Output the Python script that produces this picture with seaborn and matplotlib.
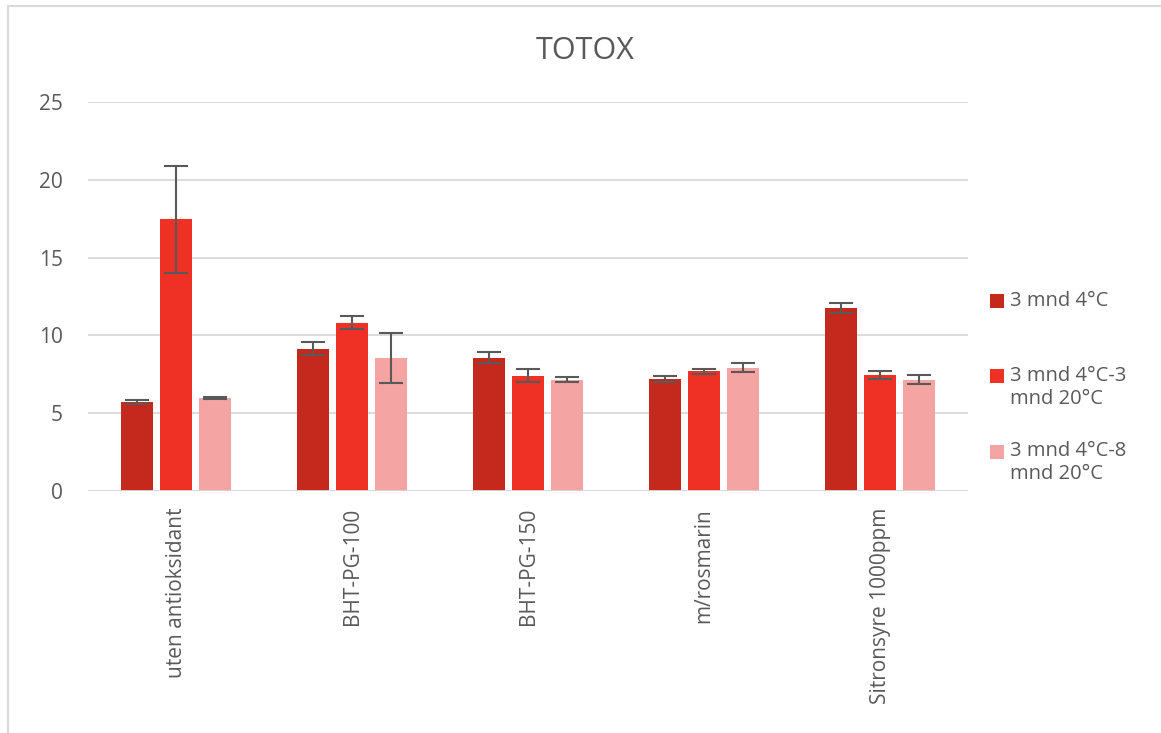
import numpy as np
import pandas as pd
import matplotlib
matplotlib.use("Agg")
import matplotlib.pyplot as plt
import matplotlib.transforms as mtransforms
import seaborn as sns
from matplotlib.patches import Rectangle

categories = ["uten antioksidant", "BHT-PG-100", "BHT-PG-150", "m/rosmarin", "Sitronsyre 1000ppm"]
series = ["3 mnd 4°C", "3 mnd 4°C-3 mnd 20°C", "3 mnd 4°C-8 mnd 20°C"]
legend_labels = ["3 mnd 4°C\n", "3 mnd 4°C-3\nmnd 20°C", "3 mnd 4°C-8\nmnd 20°C"]

vals_4c = [5.72, 9.15, 8.57, 7.20, 11.76]
vals_3m20 = [17.45, 10.82, 7.42, 7.69, 7.46]
vals_8m20 = [5.96, 8.55, 7.16, 7.93, 7.16]

err_4c = [0.15, 0.40, 0.37, 0.18, 0.35]
err_3m20 = [3.45, 0.42, 0.44, 0.14, 0.24]
err_8m20 = [0.06, 1.60, 0.17, 0.28, 0.28]

colors = ["#C5281C", "#EE3124", "#F4A5A3"]
text_col = "#595959"

df = pd.DataFrame({
    "kategori": categories * 3,
    "serie": np.repeat(series, len(categories)),
    "TOTOX": vals_4c + vals_3m20 + vals_8m20,
    "err": err_4c + err_3m20 + err_8m20,
})

sns.set_style("white")
plt.rcParams["font.family"] = ["Open Sans", "DejaVu Sans"]

fig = plt.figure(figsize=(11.61, 7.33), dpi=100)
ax = fig.add_axes([0.0758, 0.330, 0.758, 0.531])

sns.barplot(data=df, x="kategori", y="TOTOX", hue="serie", order=categories,
            hue_order=series, palette=colors, width=0.665, gap=0.2,
            errorbar=None, ax=ax, saturation=1, edgecolor="none")

# error bars drawn on top of each bar
for s, cont in zip(series, ax.containers):
    sub = df[df["serie"] == s].set_index("kategori").loc[categories]
    xs = [p.get_x() + p.get_width() / 2 for p in cont.patches]
    ax.errorbar(xs, sub["TOTOX"], yerr=sub["err"], fmt="none",
                ecolor="#595959", elinewidth=1.5, capsize=8.5, capthick=1.5, zorder=5)

ax.set_ylim(0, 25)
ax.set_xlim(-0.5, len(categories) - 0.5)
ax.set_yticks([0, 5, 10, 15, 20, 25])
ax.yaxis.grid(True, color="#D9D9D9", linewidth=1.3)
ax.set_axisbelow(True)
for sp in ax.spines.values():
    sp.set_visible(False)
ax.axhline(0, color="#D9D9D9", linewidth=1.3, zorder=1)
ax.set_xlabel("")
ax.set_ylabel("")
ax.tick_params(axis="y", length=0, pad=18, labelsize=15, labelcolor=text_col)
ax.tick_params(axis="x", length=0, pad=12, labelsize=15, labelcolor=text_col)
plt.setp(ax.get_xticklabels(), rotation=90)

fig.text(585 / 1161, 1 - 51 / 733, "TOTOX", ha="center", va="center", fontsize=22, color=text_col)

handles, _ = ax.get_legend_handles_labels()
leg = ax.legend(handles, legend_labels, loc="center left", bbox_to_anchor=(1.025, 0.296),
                frameon=False, fontsize=14.5, labelcolor=text_col,
                handlelength=0.7, handleheight=0.7, handletextpad=0.3,
                labelspacing=1.6, borderpad=0, borderaxespad=0)
# move the two-line labels down so the square sits beside the first line
shift = mtransforms.ScaledTranslation(0, -8.3 / 72, fig.dpi_scale_trans)
for t in leg.get_texts():
    t.set_transform(t.get_transform() + shift)

fig.patches.append(Rectangle((8 / 1161, -0.05), 1.2, (733 - 6) / 733 + 0.05,
                             transform=fig.transFigure, fill=False,
                             edgecolor="#D9D9D9", linewidth=1.5))

fig.savefig("out.png", dpi=100)
